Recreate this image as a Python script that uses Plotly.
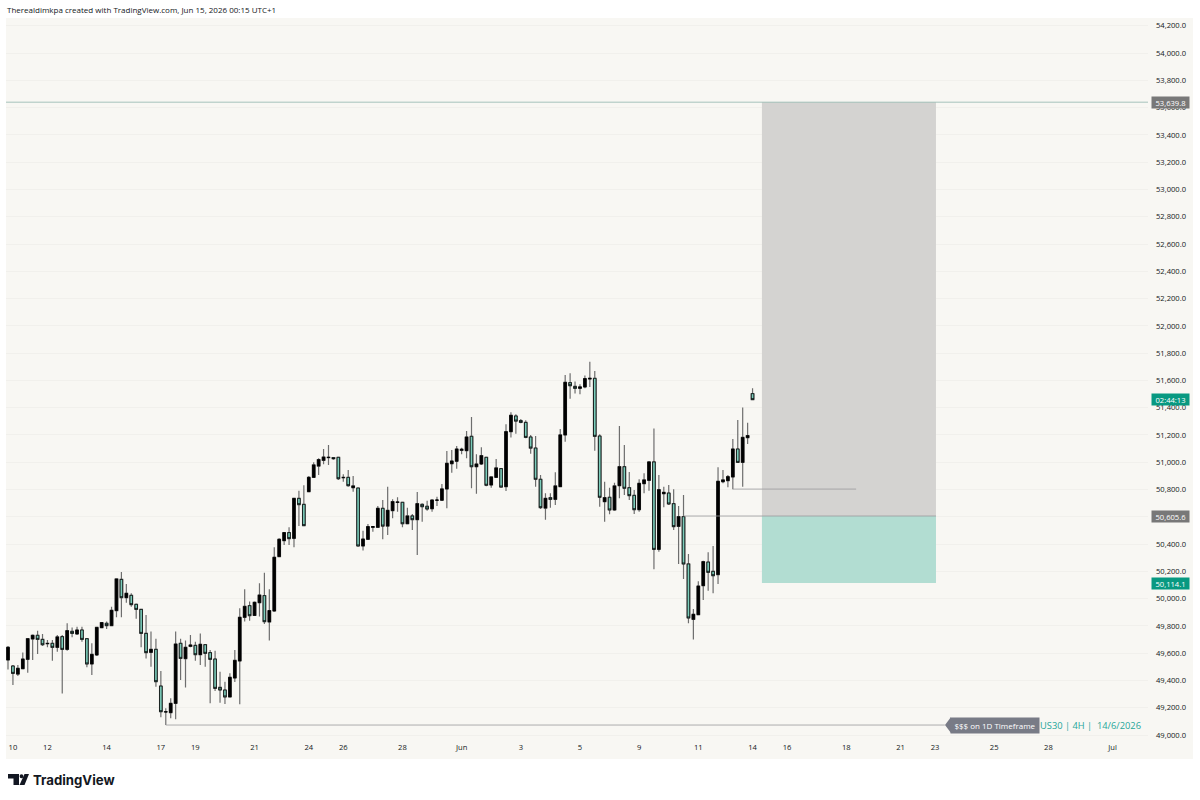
import plotly.graph_objects as go

opens = [49550,49506,49447,49486,49555,49704,49731,49701,49672,49672,49643,49721,49628,49760,49741,49770,49706,49521,49587,49787,
49819,49802,49912,50141,50007,50024,49958,49921,49745,49606,49628,49359,49171,49164,49232,49672,49560,49650,49657,49589,
49662,49604,49557,49349,49330,49279,49418,49543,49863,49948,49877,49970,50022,49829,49909,50308,50425,50484,50442,50735,
50691,50784,50889,50972,51014,51034,51034,51036,50889,50889,50813,50811,50386,50435,50523,50523,50662,50532,50645,50706,
50706,50549,50606,50579,50691,50677,50659,50721,50721,50804,50989,51007,51087,51085,51190,50967,50987,51036,50833,50889,
50953,50821,51224,51339,51305,51292,51185,51104,50875,50664,50740,50728,50821,51200,51583,51556,51542,51552,51610,51615,
51192,50711,50743,50650,50828,50967,50813,50757,50652,50843,50867,51002,50361,50769,50774,50696,50530,50601,50254,49848,
49882,50095,50268,50200,50176,50857,50865,50892,51097,50999,51180,51503]
highs = [49653,49513,49513,49604,49706,49736,49765,49741,49697,49697,49733,49733,49819,49789,49794,49794,49709,49672,49789,49829,
49833,49941,50144,50195,50107,50039,49965,49921,49880,49758,49706,49469,49196,49269,49758,49706,49692,49733,49684,49745,
49667,49623,49618,49464,49391,49452,49623,49929,50068,49978,49978,50112,50190,50068,50376,50442,50488,50523,50738,50791,
50831,50899,50999,51029,51097,51126,51036,51038,50911,50943,50899,50813,50498,50547,50530,50679,50723,50821,50728,50743,
50711,50667,50620,50782,50699,50718,50728,50747,50840,51082,51090,51119,51107,51229,51332,51058,51109,51041,50897,51024,
50955,51278,51366,51351,51317,51307,51200,51192,50906,50772,50772,50926,51244,51640,51652,51591,51571,51635,51737,51669,
51205,50857,50813,50850,51266,51126,50928,50796,50875,50919,51009,51248,50906,50821,50833,50801,50679,50760,50327,49924,
50127,50278,50339,50386,50963,50943,50906,51170,51310,51402,51290,51542]
lows = [49481,49367,49433,49486,49457,49550,49594,49653,49643,49545,49611,49305,49618,49716,49733,49684,49496,49440,49579,49782,
49777,49799,49863,49863,49970,49941,49853,49643,49560,49501,49354,49130,49073,49122,49115,49403,49349,49643,49545,49513,
49501,49232,49323,49237,49227,49276,49389,49225,49833,49838,49875,49868,49814,49692,49904,50305,50393,50393,50376,50532,
50532,50782,50887,50906,50985,50980,51019,50870,50857,50821,50784,50381,50352,50430,50491,50520,50435,50466,50589,50637,
50523,50547,50503,50320,50564,50645,50637,50679,50718,50662,50923,50953,51058,51029,50809,50769,50980,50823,50813,50887,
50813,50789,51182,51209,51285,51175,51063,50821,50657,50579,50667,50686,50818,51151,51466,51503,51498,51542,51552,51085,
50674,50564,50618,50645,50735,50760,50723,50620,50637,50772,50791,50215,50344,50669,50686,50503,50254,50144,49819,49701,
49880,49990,50058,50039,50107,50845,50816,50801,50997,50821,51134,51456]
closes = [49643,49452,49489,49557,49706,49731,49701,49662,49670,49643,49719,49628,49765,49745,49770,49701,49521,49591,49789,49824,
49802,49914,50144,50007,50039,49956,49921,49745,49604,49628,49391,49171,49169,49232,49667,49562,49643,49660,49589,49665,
49599,49555,49342,49330,49279,49423,49547,49863,49943,49875,49973,50026,49831,49912,50303,50435,50484,50440,50735,50689,
50535,50889,50980,51019,51038,51036,51026,50879,50887,50828,50826,50386,50437,50528,50528,50662,50532,50647,50711,50708,
50549,50606,50579,50696,50674,50657,50723,50723,50804,50992,51009,51097,51095,51185,50967,50987,51048,50831,50892,50958,
50818,51224,51344,51302,51292,51182,51104,50875,50667,50735,50728,50826,51200,51586,51561,51542,51552,51613,51615,51190,
50743,50740,50650,50826,50967,50809,50755,50652,50845,50870,51002,50361,50799,50779,50694,50528,50601,50254,49858,49885,
50092,50271,50193,50168,50860,50870,50894,51097,50999,51182,51195,51459]

price_ticks = list(range(49000, 54400, 200))
date_positions = [1,8,20,31,38,50,61,68,80,92,104,116,128,140,151,158,170,181,188,200,211,224]
date_labels = ["10","12","14","17","19","21","24","26","28","Jun","3","5","9","11","14","16","18","21","23","25","28","Jul"]

target_price = 53639.8
entry_price = 50605.6
stop_price = 50114.1
sss_price = 49073
swing_price = 50803

FONT = "Open Sans"
BG = "#f8f7f3"
TEAL = "#089981"
GRAY = "#787b86"
L, R, T, B = 6, 1148, 18, 741
def px(x): return (x - L) / (R - L)
def py(y): return (B - y) / (B - T)

idx = list(range(len(opens)))
body_hi = [max(o, c) for o, c in zip(opens, closes)]
body_lo = [min(o, c) for o, c in zip(opens, closes)]

fig = go.Figure()
fig.add_trace(go.Candlestick(x=idx, open=opens, high=highs, low=lows, close=closes, whiskerwidth=0,
    increasing=dict(line=dict(color="#6e6e6e", width=1.2), fillcolor="#6e6e6e"),
    decreasing=dict(line=dict(color="#6e6e6e", width=1.2), fillcolor="#6e6e6e"), showlegend=False, hoverinfo="skip"))
fig.add_trace(go.Candlestick(x=idx, open=opens, high=body_hi, low=body_lo, close=closes, whiskerwidth=0,
    increasing=dict(line=dict(color="#000000", width=0.8), fillcolor="#000000"),
    decreasing=dict(line=dict(color="#000000", width=0.8), fillcolor="#7ccdbb"), showlegend=False))

shapes = [
    dict(type="rect", xref="paper", yref="paper", x0=0, x1=px(1193), y0=py(759), y1=1, fillcolor=BG, line_width=0, layer="below"),
    dict(type="rect", x0=152.9, x1=188.2, y0=entry_price, y1=target_price, fillcolor="#d4d3d1", line_width=0, layer="above"),
    dict(type="rect", x0=152.9, x1=188.2, y0=stop_price, y1=entry_price, fillcolor="#b2ddd2", line_width=0, layer="above"),
    dict(type="line", xref="paper", x0=0, x1=1, y0=target_price, y1=target_price, line=dict(color="#90b5ad", width=0.8)),
    dict(type="line", x0=137, x1=188.2, y0=entry_price, y1=entry_price, line=dict(color="#9a9b9c", width=0.8)),
    dict(type="line", x0=32, x1=190, y0=sss_price, y1=sss_price, line=dict(color="#9a9b9c", width=0.8)),
    dict(type="line", x0=147, x1=172, y0=swing_price, y1=swing_price, line=dict(color="#9a9b9c", width=0.8)),
    dict(type="path", xref="paper", yref="paper", fillcolor=GRAY, line_width=0,
         path=f"M {px(945)} {py(725)} L {px(951)} {py(717)} L {px(951)} {py(733)} Z"),
    dict(type="path", xref="paper", yref="paper", fillcolor="#131722", line_width=0,
         path=f"M {px(8)} {py(774)} L {px(19)} {py(774)} L {px(19)} {py(785)} L {px(13.5)} {py(785)} L {px(13.5)} {py(778.5)} L {px(8)} {py(778.5)} Z"),
    dict(type="circle", xref="paper", yref="paper", fillcolor="#131722", line_width=0,
         x0=px(19.6), x1=px(23.4), y0=py(778.2), y1=py(774.2)),
    dict(type="path", xref="paper", yref="paper", fillcolor="#131722", line_width=0,
         path=f"M {px(24.5)} {py(774)} L {px(29)} {py(774)} L {px(24.5)} {py(785)} L {px(19.5)} {py(785)} Z"),
]

def label(y, text, color):
    return dict(xref="paper", yref="y", x=px(1170.5), xanchor="center", y=y, text=text, showarrow=False, bgcolor=color,
                font=dict(family=FONT, size=7.6, color="#ffffff"), width=35, height=9, borderpad=1, align="center")

annotations = [
    label(target_price, "53,639.8", "#787878"),
    label(entry_price, "50,605.6", "#787878"),
    label(stop_price, "50,114.1", TEAL),
    label(51459, "02:44:13", TEAL),
    dict(xref="paper", yref="y", x=px(995), xanchor="center", y=sss_price, text="$$$ on 1D Timeframe", showarrow=False, bgcolor=GRAY,
         font=dict(family=FONT, size=8, color="#ffffff"), width=86, height=13, borderpad=1),
    dict(xref="paper", yref="y", x=px(1040), xanchor="left", xshift=-2, y=sss_price, text="US30 | 4H |  14/6/2026", showarrow=False,
         font=dict(family=FONT, size=9.3, color="#26a69a")),
    dict(xref="paper", yref="paper", x=px(7), xanchor="left", xshift=-2, y=py(9), yanchor="middle",
         text="Therealdimkpa created with TradingView.com, Jun 15, 2026 00:15 UTC+1",
         showarrow=False, font=dict(family=FONT, size=8, color="#131722")),
    dict(xref="paper", yref="paper", x=px(33), xanchor="left", xshift=-2, y=py(780), yanchor="middle", text="<b>TradingView</b>", showarrow=False,
         font=dict(family="Inter", size=13.2, color="#131722")),
]

fig.update_layout(
    width=1200, height=800, autosize=False,
    margin=dict(l=L, r=1200 - R, t=T, b=800 - B, pad=0),
    paper_bgcolor="#ffffff", plot_bgcolor=BG, boxgap=0.25, showlegend=False,
    shapes=shapes, annotations=annotations,
    font=dict(family=FONT, size=7.6, color="#131722"),
    xaxis=dict(range=[-0.406, 231.2], tickmode="array", tickvals=date_positions, ticktext=date_labels,
               showgrid=False, zeroline=False, ticks="", rangeslider=dict(visible=False), showline=False,
               tickfont=dict(family=FONT, size=7.6, color="#131722")),
    yaxis=dict(range=[48956, 54257], side="right", tickmode="array", tickvals=price_ticks,
               ticktext=[f"{p:,.1f}" for p in price_ticks], gridcolor="#f1f0ec", gridwidth=1, zeroline=False,
               ticks="", showline=False, ticklabelstandoff=7, tickfont=dict(family=FONT, size=7.6, color="#131722")),
)
fig.write_html("out.html", config=dict(displayModeBar=False), post_script="document.body.style.margin='0';")
